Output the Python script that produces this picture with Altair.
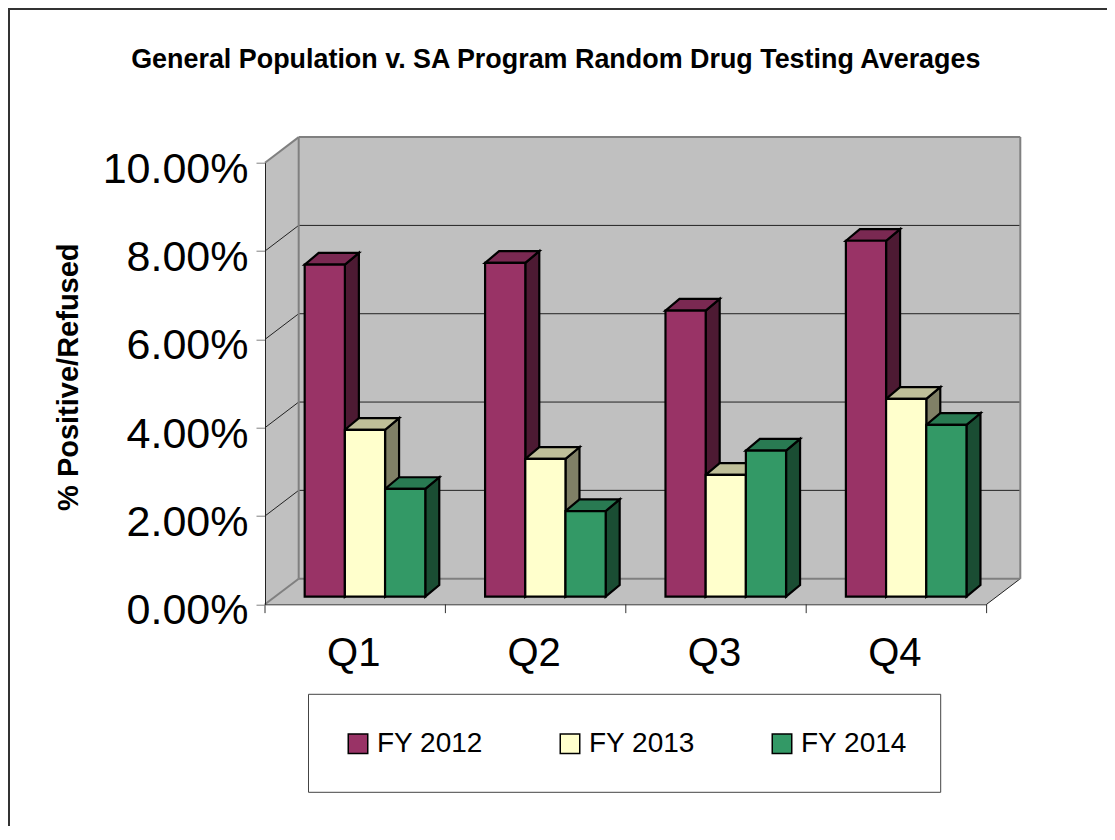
import json
import altair as alt
import pandas as pd

title = "General Population v. SA Program Random Drug Testing Averages"
y_title = "% Positive/Refused"
quarters = ["Q1", "Q2", "Q3", "Q4"]
series = ["FY 2012", "FY 2013", "FY 2014"]
fy2012 = [7.52, 7.56, 6.48, 8.06]
fy2013 = [3.78, 3.12, 2.76, 4.48]
fy2014 = [2.44, 1.94, 3.31, 3.89]
y_ticks = [0, 2, 4, 6, 8, 10]
grid_vals = [2, 4, 6, 8]

front_colors = ["#993366", "#FFFFCC", "#339966"]
side_colors = ["#4D1A33", "#808066", "#1A4D33"]
top_colors = ["#7A2952", "#BFBF99", "#297A52"]

# geometry of the pseudo-3D box, in data units
WALL_DX, WALL_DY = 0.1868, 0.58
BAR_DX, BAR_DY = 0.0776, 0.265
BAR_BASE = 0.172
BAR_START, BAR_W = 0.22, 0.2228
N = len(quarters)
TOP = 10
values = [fy2012, fy2013, fy2014]

quarter_expr = json.dumps(quarters) + "[floor(datum.value)]"
x_axis = alt.Axis(
    values=[i + 0.5 for i in range(N)], labelExpr=quarter_expr, title=None,
    ticks=False, domain=True, domainColor="#333333", domainWidth=1, grid=False,
    labelFont="Liberation Sans", labelFontSize=40, labelColor="black",
    labelPadding=29, labelAngle=0, zindex=1, labelOffset=-2,
)
y_axis = alt.Axis(
    values=y_ticks, labelExpr="format(datum.value,'.2f')+'%'", title=y_title,
    grid=False, domain=True, domainColor="#222222", domainWidth=1,
    tickColor="#808080", tickSize=9, tickWidth=1,
    labelFont="Liberation Sans", labelFontSize=43, labelColor="black", labelPadding=8,
    labelOffset=6.5,
    titleFont="Liberation Sans", titleFontSize=29, titleFontWeight="bold", titleColor="black",
    titleAngle=270, titleX=-197, titleY=214, titleAlign="center", titleBaseline="middle",
    zindex=1,
)
X = alt.X("x:Q", scale=alt.Scale(domain=[0, N], nice=False, zero=False), axis=x_axis)
Y = alt.Y("y:Q", scale=alt.Scale(domain=[0, TOP], nice=False, zero=False), axis=y_axis)
X2 = alt.X2("x2:Q")
Y2 = alt.Y2("y2:Q")

wall_df = pd.DataFrame([dict(x=WALL_DX, x2=N + WALL_DX, y=WALL_DY, y2=TOP + WALL_DY)])
back_wall = alt.Chart(wall_df).mark_rect(fill="#C0C0C0").encode(x=X, x2=X2, y=Y, y2=Y2)

left_wall_df = pd.DataFrame([dict(x=0, y=0, y2=TOP), dict(x=WALL_DX, y=WALL_DY, y2=TOP + WALL_DY)])
left_wall = alt.Chart(left_wall_df).mark_area(fill="#C0C0C0", orient="vertical").encode(x=X, y=Y, y2=Y2)

floor_df = pd.DataFrame([
    dict(x=0, y=0, y2=0),
    dict(x=WALL_DX, y=0, y2=WALL_DY),
    dict(x=N, y=0, y2=WALL_DY),
    dict(x=N + WALL_DX, y=WALL_DY, y2=WALL_DY),
])
floor = alt.Chart(floor_df).mark_area(fill="#C0C0C0", orient="vertical").encode(x=X, y=Y, y2=Y2)

grid_rows = []
for g in grid_vals:
    grid_rows.append(dict(x=0, x2=WALL_DX, y=g, y2=g + WALL_DY))
    grid_rows.append(dict(x=WALL_DX, x2=N + WALL_DX, y=g + WALL_DY, y2=g + WALL_DY))
grid_rows.append(dict(x=N, x2=N + WALL_DX, y=0, y2=WALL_DY))
grid = alt.Chart(pd.DataFrame(grid_rows)).mark_rule(color="#222222", strokeWidth=1).encode(
    x=X, x2=X2, y=Y, y2=Y2)

edge_rows = [
    dict(x=0, x2=WALL_DX, y=TOP, y2=TOP + WALL_DY),
    dict(x=WALL_DX, x2=N + WALL_DX, y=TOP + WALL_DY, y2=TOP + WALL_DY),
    dict(x=WALL_DX, x2=WALL_DX, y=WALL_DY, y2=TOP + WALL_DY),
    dict(x=N + WALL_DX, x2=N + WALL_DX, y=WALL_DY, y2=TOP + WALL_DY),
    dict(x=WALL_DX, x2=N + WALL_DX, y=WALL_DY, y2=WALL_DY),
    dict(x=0, x2=WALL_DX, y=0, y2=WALL_DY),
]
edges = alt.Chart(pd.DataFrame(edge_rows)).mark_rule(color="#808080", strokeWidth=2).encode(
    x=X, x2=X2, y=Y, y2=Y2)

tick_df = pd.DataFrame([dict(x=i, y=0, y2=-0.2) for i in range(N + 1)])
x_ticks = alt.Chart(tick_df).mark_rule(color="#333333", strokeWidth=1).encode(x=X, y=Y, y2=Y2)

side_layers, top_layers, front_rows = [], [], []
for k, name in enumerate(series):
    side_rows, top_rows = [], []
    for i, q in enumerate(quarters):
        v = values[k][i]
        x0 = i + BAR_START + k * BAR_W
        x1 = x0 + BAR_W
        t = BAR_BASE + v
        side_rows += [
            dict(face=q, x=x1, y=BAR_BASE, y2=t),
            dict(face=q, x=x1 + BAR_DX, y=BAR_BASE + BAR_DY, y2=t + BAR_DY),
        ]
        top_rows += [
            dict(face=q, x=x0, y=t, y2=t),
            dict(face=q, x=x0 + BAR_DX, y=t, y2=t + BAR_DY),
            dict(face=q, x=x1, y=t, y2=t + BAR_DY),
            dict(face=q, x=x1 + BAR_DX, y=t + BAR_DY, y2=t + BAR_DY),
        ]
        front_rows.append(dict(series=name, quarter=q, x=x0, x2=x1, y=BAR_BASE, y2=t))
    side_layers.append(
        alt.Chart(pd.DataFrame(side_rows))
        .mark_area(fill=side_colors[k], stroke="black", strokeWidth=2.2, orient="vertical")
        .encode(x=X, y=Y, y2=Y2, detail="face:N")
    )
    top_layers.append(
        alt.Chart(pd.DataFrame(top_rows))
        .mark_area(fill=top_colors[k], stroke="black", strokeWidth=2.2, orient="vertical")
        .encode(x=X, y=Y, y2=Y2, detail="face:N")
    )

legend = alt.Legend(
    orient="none", legendX=79, legendY=567, direction="horizontal", columns=3,
    title=None, symbolType="square", symbolSize=380, symbolStrokeColor="black",
    symbolStrokeWidth=1.5, symbolOpacity=1, labelFont="Liberation Sans", labelFontSize=28,
    labelColor="black", labelOffset=5, columnPadding=73, padding=0, labelLimit=200,
)
fronts = alt.Chart(pd.DataFrame(front_rows)).mark_rect(stroke="black", strokeWidth=2.2).encode(
    x=X, x2=X2, y=Y, y2=Y2,
    color=alt.Color("series:N", scale=alt.Scale(domain=series, range=front_colors), legend=legend),
)

one = pd.DataFrame({"a": [0]})
legend_box = alt.Chart(one).mark_rect(fill="white", stroke="#444444", strokeWidth=1).encode(
    x=alt.value(43.5), x2=alt.value(675.7), y=alt.value(531.6), y2=alt.value(629.6))
border_left = alt.Chart(one).mark_rule(color="#333333", strokeWidth=2).encode(
    x=alt.value(-256), y=alt.value(-154.7), y2=alt.value(663.3))
border_top = alt.Chart(one).mark_rule(color="#333333", strokeWidth=2).encode(
    y=alt.value(-153.7), x=alt.value(-257), x2=alt.value(842))

chart = alt.layer(
    back_wall, left_wall, floor, grid, edges, x_ticks,
    *side_layers, *top_layers, fronts,
    legend_box, border_left, border_top,
).properties(
    width=721.6,
    height=441.6,
    autosize=alt.AutoSizeParams(type="none"),
    padding={"left": 257, "top": 154.7, "right": 120.4, "bottom": 221.7},
    background="white",
    title=alt.TitleParams(
        title, anchor="middle", frame="group", dx=-70, offset=0, dy=67,
        font="Liberation Sans", fontSize=26.9, fontWeight="bold", color="black",
    ),
).configure_view(stroke=None)

chart.save("out.html", embed_options={"renderer": "svg", "actions": False})
